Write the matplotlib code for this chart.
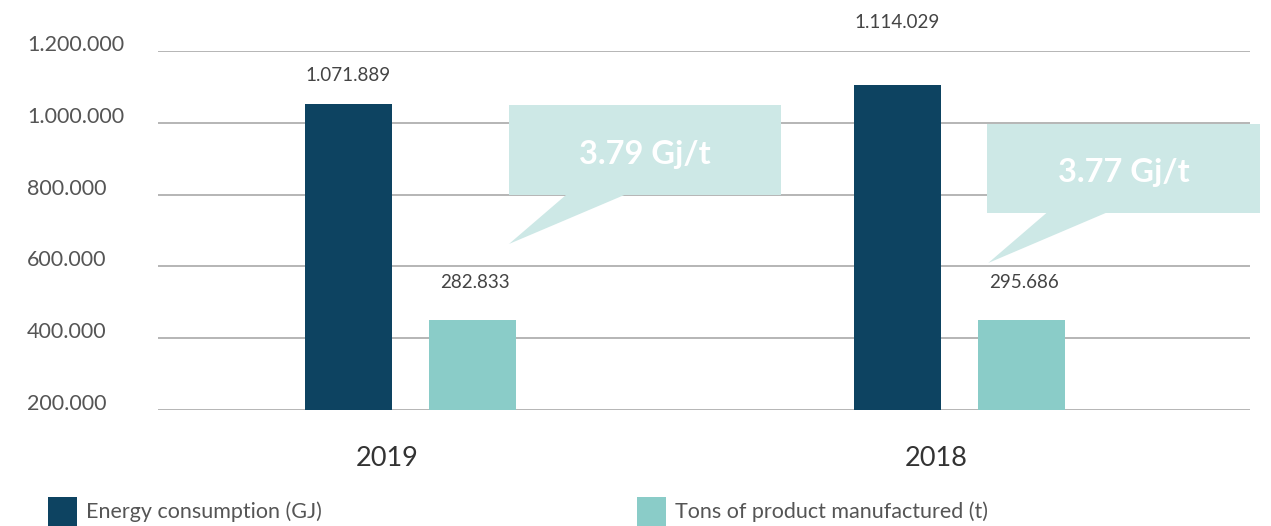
import matplotlib
matplotlib.use("Agg")
import matplotlib.pyplot as plt
from matplotlib.patches import Polygon, Rectangle

# values
years = ["2019", "2018"]
energy_bars = [1052000, 1105000]          # bar heights as drawn
tons_bars = [451000, 451000]
energy_labels = ["1.071.889", "1.114.029"]
tons_labels = ["282.833", "295.686"]
ratio_labels = ["3.79 Gj/t", "3.77 Gj/t"]
yticks = [200000, 400000, 600000, 800000, 1000000, 1200000]
ytick_labels = ["200.000", "400.000", "600.000", "800.000", "1.000.000", "1.200.000"]
series_names = ["Energy consumption (GJ)", "Tons of product manufactured (t)"]

DARK = "#0d4361"
TEAL = "#8accc8"
BUBBLE = "#cde8e6"
GRID = "#b0b0b0"
TEXT = "#555555"

plt.rcParams["font.family"] = ["Lato", "DejaVu Sans"]

fig = plt.figure(figsize=(12.71, 5.26), dpi=100)
ax = fig.add_axes([0.1243, 0.2205, 0.8592, 0.6825])
ax.set_xlim(-0.46, 1.53)
ax.set_ylim(200000, 1200000)
for s in ax.spines.values():
    s.set_visible(False)
ax.set_xticks([])
ax.set_yticks([])

PX = 0.72  # points per pixel at dpi 100

for t in yticks:
    ax.axhline(t, color=GRID, lw=1.3, zorder=1)
for t, lab in zip(yticks, ytick_labels):
    ax.annotate(lab, (-0.699, t), xytext=(0, 6 * PX), textcoords="offset points",
                ha="left", va="center", fontsize=15.5, color=TEXT,
                annotation_clip=False)

x = list(range(len(years)))
w = 0.159
off = 0.113
ax.bar([i - off for i in x], [v - 200000 for v in energy_bars], width=w,
       bottom=200000, color=DARK, zorder=2)
ax.bar([i + off for i in x], [v - 200000 for v in tons_bars], width=w,
       bottom=200000, color=TEAL, zorder=2)

# value labels (gaps differ between bars as in the original)
e_gap = [29, 63]
t_gap = [37, 37]
for i in x:
    ax.annotate(energy_labels[i], (i - off, energy_bars[i]), xytext=(0, e_gap[i] * PX),
                textcoords="offset points", ha="center", va="center",
                fontsize=13.5, color="#444444", annotation_clip=False)
    ax.annotate(tons_labels[i], (i + off + 0.005, tons_bars[i]), xytext=(0, t_gap[i] * PX),
                textcoords="offset points", ha="center", va="center",
                fontsize=13.5, color="#444444", annotation_clip=False)
    ax.annotate(years[i], (i - 0.042, 200000), xytext=(0, -48 * PX),
                textcoords="offset points", ha="center", va="center",
                fontsize=19.5, color="#333333", annotation_clip=False)

# speech-bubble callouts: box (x0, x1, y_top, y_bottom), tail (xa, xb, tip_x, tip_y)
bubbles = [
    ((0.1796, 0.6755, 1049700, 799000), (0.285, 0.393, 0.1796, 662500)),
    ((1.051, 1.549, 996800, 748800), (1.1605, 1.270, 1.0529, 609500)),
]
for (bx, tl), lab in zip(bubbles, ratio_labels):
    x0, x1, yt, yb = bx
    ax.add_patch(Rectangle((x0, yb), x1 - x0, yt - yb, facecolor=BUBBLE,
                           edgecolor="none", zorder=3, clip_on=False))
    xa, xb, tx, ty = tl
    ax.add_patch(Polygon([(xa, yb + 2000), (xb, yb + 2000), (tx, ty)], closed=True,
                         facecolor=BUBBLE, edgecolor="none", zorder=3, clip_on=False))
    ax.text((x0 + x1) / 2, (yt + yb) / 2 - 12000, lab,
            ha="center", va="center", fontsize=23.5, fontweight="bold",
            color="white", zorder=4, clip_on=False)

# legend
for lx, name, col in [(48, series_names[0], DARK), (637, series_names[1], TEAL)]:
    fig.patches.append(Rectangle((lx / 1271, 0), 29 / 1271, 29 / 526,
                                 transform=fig.transFigure, facecolor=col,
                                 edgecolor="none"))
    fig.text((lx + 38) / 1271, 14 / 526, name, ha="left", va="center",
             fontsize=15.5, color=TEXT)

fig.savefig("out.png", dpi=100)
